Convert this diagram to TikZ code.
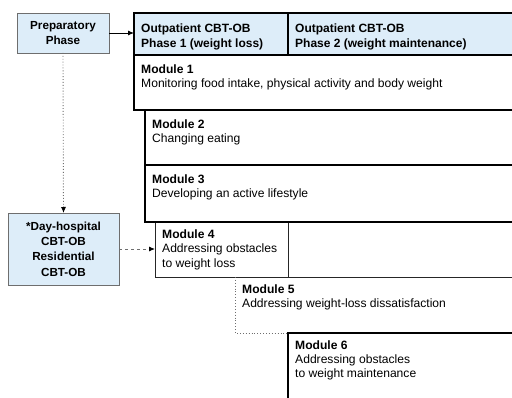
\documentclass[tikz,border=0pt]{standalone}
\usepackage{fontspec}
\setmainfont{Liberation Sans}
\usetikzlibrary{positioning,arrows.meta}
\definecolor{phaseblue}{RGB}{221,237,249}
\definecolor{edgegray}{RGB}{110,110,110}

\begin{document}
\begin{tikzpicture}[
    x=1pt, y=-1pt,
    phasebox/.style = {
        draw=edgegray,
        fill=phaseblue,
        line width=0.9pt,
        outer sep=0pt,
        align=center,
        font=\bfseries\fontsize{11.7}{15.3}\selectfont
    },
    headbox/.style = {
        draw,
        fill=phaseblue,
        line width=1.1pt,
        outer sep=0pt,
        anchor=north west,
        minimum height=42
    },
    modbox/.style = {
        draw,
        line width=1.3pt,
        outer sep=0pt,
        anchor=north west
    },
    thinbox/.style = {
        draw=black!85,
        line width=0.7pt,
        outer sep=0pt,
        anchor=north west
    },
    modtext/.style = {
        anchor=north west,
        align=left,
        inner xsep=7pt,
        inner ysep=7.5pt,
        font=\fontsize{12.1}{14.5}\selectfont
    },
    headtext/.style = {
        modtext,
        inner ysep=11pt,
        font=\bfseries\fontsize{12}{15}\selectfont
    },
    linkstyle/.style = {
        -{Latex[length=6pt,width=5pt]},
        line width=0.9pt
    }
]
\clip (0,0) rectangle (512,398);
\fill[white] (0,0) rectangle (512,398);

% --- Phases ---
\node[phasebox, minimum width=92, minimum height=40] (prep) at (63,33) {Preparatory\\Phase};
\node[phasebox, minimum width=111, minimum height=72] (day) at (63.5,249) {*Day-hospital\\CBT-OB\\Residential\\CBT-OB};

\node[headbox, minimum width=154] (head1) at (134,13) {};
\node[headbox, minimum width=260] (head2) at (288,13) {};
\node[headtext] (head1txt) at (head1.north west) {Outpatient CBT-OB\\Phase 1 (weight loss)};
\node[headtext] (head2txt) at (head2.north west) {Outpatient CBT-OB\\Phase 2 (weight maintenance)};

% --- Modules ---
\node[thinbox, minimum width=133, minimum height=55] (mod4) at (155,222) {};
\node[thinbox, minimum width=260, minimum height=55] (gap4) at (288,222) {};
\node[modbox, minimum width=420, minimum height=55] (mod1) at (134,55) {};
\node[modbox, minimum width=400, minimum height=55] (mod2) at (145,110) {};
\node[modbox, minimum width=400, minimum height=57] (mod3) at (145,165) {};
\node[outer sep=0pt, anchor=north west, minimum width=300, minimum height=56] (mod5) at (235,277) {};
\node[modbox, minimum width=260, minimum height=100] (mod6) at (288,333) {};

\draw[dotted, edgegray, line width=0.9pt] (mod5.north west) -- (mod5.south west) -- (mod6.north west);

\node[modtext, inner ysep=9.5pt] (mod1txt) at (mod1.north west) {\textbf{Module 1}\\Monitoring food intake, physical activity and body weight};
\node[modtext, inner ysep=9.5pt] (mod2txt) at (mod2.north west) {\textbf{Module 2}\\Changing eating};
\node[modtext, inner ysep=9.5pt] (mod3txt) at (mod3.north west) {\textbf{Module 3}\\Developing an active lifestyle};
\node[modtext, font=\fontsize{12.1}{14.5}\selectfont] (mod4txt) at (mod4.north west) {\textbf{Module 4}\\Addressing obstacles\\to weight loss};
\node[modtext] (mod5txt) at (mod5.north west) {\textbf{Module 5}\\Addressing weight-loss dissatisfaction};
\node[modtext, font=\fontsize{12.1}{14}\selectfont] (mod6txt) at (mod6.north west) {\textbf{Module 6}\\Addressing obstacles\\to weight maintenance};

% --- Links ---
\draw[linkstyle] (prep.east) -- (prep.east -| head1.west);
\draw[linkstyle, dotted, edgegray, -{Latex[length=6pt,width=5pt,color=black]}] (prep.south) -- (day.north);
\draw[linkstyle, dashed, edgegray, -{Latex[length=6pt,width=5pt,color=black]}] (day.east) -- (day.east -| mod4.west);

\end{tikzpicture}
\end{document}
